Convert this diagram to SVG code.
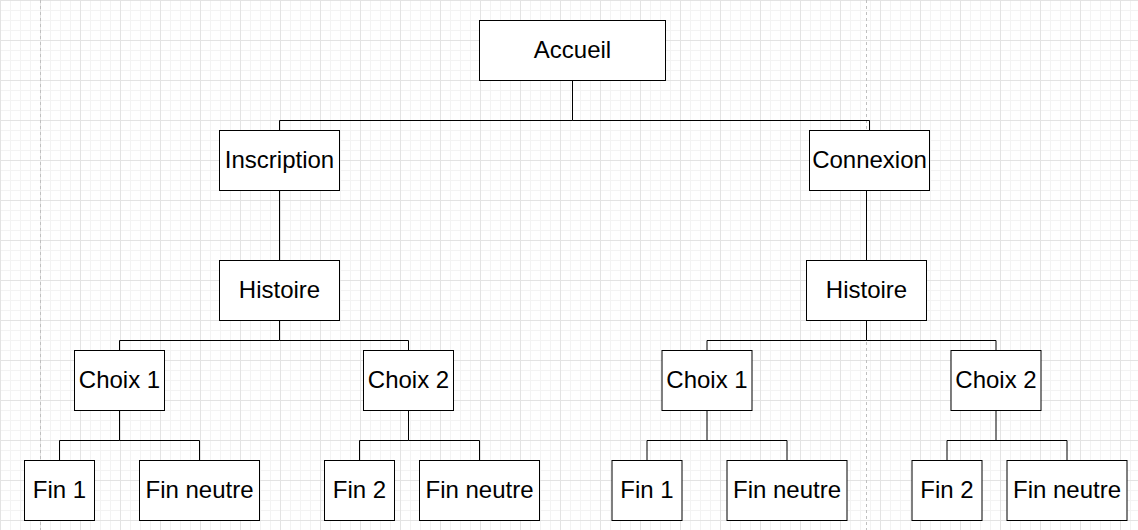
<svg xmlns="http://www.w3.org/2000/svg" width="1138" height="530" viewBox="0 0 1138 530">
<style>
.box{fill:#ffffff;stroke:#000000;stroke-width:1}
.lbl{font-family:"Liberation Sans",Arial,sans-serif;font-size:24px;fill:#000000;text-anchor:middle}
.edge{fill:none;stroke:#000000;stroke-width:1}
.page{stroke:#c0c0c0;stroke-width:1;stroke-dasharray:3 3}
</style>
<defs>
<pattern id="minor" width="10" height="10" patternUnits="userSpaceOnUse">
<path d="M0.5 0V10M0 0.5H10" stroke="#f3f3f3" stroke-width="1" fill="none"/>
</pattern>
<pattern id="major" width="40" height="40" patternUnits="userSpaceOnUse">
<path d="M0.5 0V40M0 0.5H40" stroke="#e3e3e3" stroke-width="1" fill="none"/>
</pattern>
</defs>
<rect width="1138" height="530" fill="#ffffff"/>
<rect width="1138" height="530" fill="url(#minor)"/>
<rect width="1138" height="530" fill="url(#major)"/>
<line class="page" x1="40.5" y1="0" x2="40.5" y2="530"/>
<line class="page" x1="866.5" y1="0" x2="866.5" y2="530"/>
<g id="connectors">
<path class="edge" d="M572.5 80.5V120.5H279.5V130.5M572.5 120.5H869.5V130.5"/>
<path class="edge" d="M279.5 190.5V260.5"/>
<path class="edge" d="M866.5 190.5V260.5"/>
<path class="edge" d="M279.5 320.5V340.5H119.5V350.5M279.5 340.5H408.5V350.5"/>
<path class="edge" d="M119.5 410.5V440.5H59.5V460.5M119.5 440.5H199.5V460.5"/>
<path class="edge" d="M408.5 410.5V440.5H359.5V460.5M408.5 440.5H479.5V460.5"/>
<path class="edge" d="M866.5 320.5V340.5H707V350.5M866.5 340.5H996V350.5"/>
<path class="edge" d="M707 410.5V440.5H647V460.5M707 440.5H787V460.5"/>
<path class="edge" d="M996 410.5V440.5H947V460.5M996 440.5H1067V460.5"/>
</g>
<g id="accueil"><rect class="box" x="479.5" y="20.5" width="186" height="60"/><text class="lbl" x="572.5" y="58">Accueil</text></g>
<g id="inscription"><rect class="box" x="219.5" y="130.5" width="120" height="60"/><text class="lbl" x="279.5" y="168">Inscription</text></g>
<g id="connexion"><rect class="box" x="809.5" y="130.5" width="120" height="60"/><text class="lbl" x="869.5" y="168">Connexion</text></g>
<g id="histoire-l"><rect class="box" x="219.5" y="260.5" width="120" height="60"/><text class="lbl" x="279.5" y="298">Histoire</text></g>
<g id="histoire-r"><rect class="box" x="806.5" y="260.5" width="120" height="60"/><text class="lbl" x="866.5" y="298">Histoire</text></g>
<g id="choix1-l"><rect class="box" x="74.5" y="350.5" width="90" height="60"/><text class="lbl" x="119.5" y="388">Choix 1</text></g>
<g id="choix2-l"><rect class="box" x="363.5" y="350.5" width="90" height="60"/><text class="lbl" x="408.5" y="388">Choix 2</text></g>
<g id="choix1-r"><rect class="box" x="662" y="350.5" width="90" height="60"/><text class="lbl" x="707" y="388">Choix 1</text></g>
<g id="choix2-r"><rect class="box" x="951" y="350.5" width="90" height="60"/><text class="lbl" x="996" y="388">Choix 2</text></g>
<g id="fin1-l"><rect class="box" x="24.5" y="460.5" width="70" height="60"/><text class="lbl" x="59.5" y="498">Fin 1</text></g>
<g id="finneutre-l1"><rect class="box" x="139.5" y="460.5" width="120" height="60"/><text class="lbl" x="199.5" y="498">Fin neutre</text></g>
<g id="fin2-l"><rect class="box" x="324.5" y="460.5" width="70" height="60"/><text class="lbl" x="359.5" y="498">Fin 2</text></g>
<g id="finneutre-l2"><rect class="box" x="419.5" y="460.5" width="120" height="60"/><text class="lbl" x="479.5" y="498">Fin neutre</text></g>
<g id="fin1-r"><rect class="box" x="612" y="460.5" width="70" height="60"/><text class="lbl" x="647" y="498">Fin 1</text></g>
<g id="finneutre-r1"><rect class="box" x="727" y="460.5" width="120" height="60"/><text class="lbl" x="787" y="498">Fin neutre</text></g>
<g id="fin2-r"><rect class="box" x="912" y="460.5" width="70" height="60"/><text class="lbl" x="947" y="498">Fin 2</text></g>
<g id="finneutre-r2"><rect class="box" x="1007" y="460.5" width="120" height="60"/><text class="lbl" x="1067" y="498">Fin neutre</text></g>
</svg>
